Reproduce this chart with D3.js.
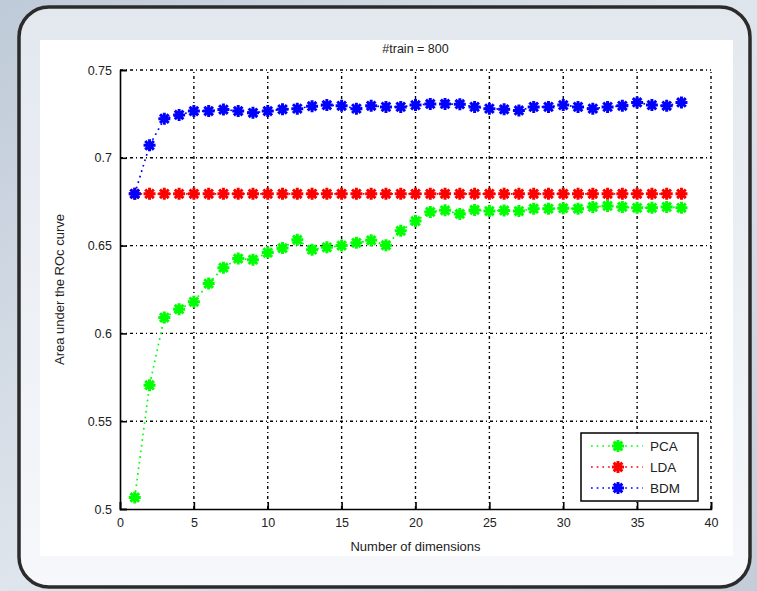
<!DOCTYPE html>
<html>
<head>
<meta charset="utf-8">
<script src="https://cdn.jsdelivr.net/npm/d3@7"></script>
<style>
  body { margin: 0; }
  text { font-family: "Liberation Sans", Arial, sans-serif; }
</style>
</head>
<body>
<div id="chart"></div>
<script>
const width = 757;
const height = 591;
const margin = { top: 70, right: 46, bottom: 82, left: 120 };

// data
const dims = d3.range(1, 39);
const pca = [0.5066, 0.5705, 0.609, 0.6138, 0.618, 0.6284, 0.6374, 0.6426, 0.642, 0.646,
  0.6486, 0.6533, 0.6477, 0.649, 0.650, 0.6516, 0.653, 0.6502, 0.6584, 0.664,
  0.6692, 0.6701, 0.668, 0.6703, 0.6697, 0.670, 0.6697, 0.671, 0.671, 0.6713,
  0.671, 0.672, 0.6726, 0.672, 0.6715, 0.6715, 0.672, 0.6715];
const lda = dims.map(() => 0.6795);
const bdm = [0.6795, 0.7071, 0.7223, 0.7244, 0.7266, 0.7266, 0.7275, 0.7266, 0.7256, 0.7266,
  0.7276, 0.728, 0.7294, 0.730, 0.7296, 0.728, 0.7296, 0.729, 0.729, 0.730,
  0.7307, 0.7307, 0.7305, 0.729, 0.728, 0.7276, 0.727, 0.729, 0.729, 0.730,
  0.729, 0.728, 0.729, 0.7296, 0.7315, 0.730, 0.7296, 0.7315];
const seriesNames = ["PCA", "LDA", "BDM"];
const seriesColors = ["#00ff00", "#ff0000", "#0000ff"];
const xTicks = [0, 5, 10, 15, 20, 25, 30, 35, 40];
const yTicks = [0.5, 0.55, 0.6, 0.65, 0.7, 0.75];

const seriesData = [pca, lda, bdm];

const svg = d3.select("#chart")
  .append("svg")
  .attr("width", width)
  .attr("height", height);

const defs = svg.append("defs");
const bg = defs.append("linearGradient").attr("id", "bg")
  .attr("x1", 0).attr("y1", 0).attr("x2", 1).attr("y2", 1);
bg.append("stop").attr("offset", 0).attr("stop-color", "#bfcad8");
bg.append("stop").attr("offset", 0.5).attr("stop-color", "#dfe5ec");
bg.append("stop").attr("offset", 1).attr("stop-color", "#c3ccd8");

const panel = defs.append("linearGradient").attr("id", "panel")
  .attr("x1", 0).attr("y1", 0).attr("x2", 0).attr("y2", 1);
panel.append("stop").attr("offset", 0).attr("stop-color", "#e3e8ef");
panel.append("stop").attr("offset", 1).attr("stop-color", "#f6f8fb");

// backgrounds
svg.append("rect").attr("width", width).attr("height", height).attr("fill", "url(#bg)");
svg.append("rect")
  .attr("x", 19).attr("y", 7).attr("width", 731).attr("height", 580)
  .attr("rx", 30).attr("ry", 30)
  .attr("fill", "url(#panel)")
  .attr("stroke", "#2b2b2b").attr("stroke-width", 3.5);
svg.append("rect")
  .attr("x", 40).attr("y", 40).attr("width", 693).attr("height", 516)
  .attr("fill", "#ffffff");

// scales
const xScale = d3.scaleLinear().domain([0, 40]).range([margin.left, width - margin.right]);
const yScale = d3.scaleLinear().domain([0.5, 0.75]).range([height - margin.bottom, margin.top]);

// grid
const grid = svg.append("g")
  .attr("stroke", "#000")
  .attr("stroke-width", 1.4)
  .attr("stroke-dasharray", "3,3,1,3");

grid.selectAll(".gx")
  .data(xTicks.slice(1))
  .join("line")
  .attr("x1", d => xScale(d)).attr("x2", d => xScale(d))
  .attr("y1", yScale(0.5)).attr("y2", yScale(0.75));

grid.selectAll(".gy")
  .data(yTicks.slice(1))
  .join("line")
  .attr("x1", xScale(0)).attr("x2", xScale(40))
  .attr("y1", d => yScale(d)).attr("y2", d => yScale(d));

// axes
const axes = svg.append("g");
axes.append("g")
  .attr("transform", `translate(0, ${yScale(0.5)})`)
  .call(d3.axisBottom(xScale).tickValues(xTicks).tickSize(-7).tickPadding(9).tickFormat(d3.format("d")))
  .call(g => g.select(".domain").attr("stroke-width", 1.6))
  .call(g => g.selectAll(".tick line").attr("stroke-width", 1.6))
  .selectAll("text")
  .attr("font-size", "12.5px")
  .attr("fill", "#222");

axes.append("g")
  .attr("transform", `translate(${xScale(0)}, 0)`)
  .call(d3.axisLeft(yScale).tickValues(yTicks).tickSize(-7).tickPadding(8).tickFormat(d => String(+d.toFixed(2))))
  .call(g => g.select(".domain").attr("stroke-width", 1.6))
  .call(g => g.selectAll(".tick line").attr("stroke-width", 1.6))
  .selectAll("text")
  .attr("font-size", "12.5px")
  .attr("fill", "#222");

// lines and markers
const line = d3.line()
  .x((d, i) => xScale(dims[i]))
  .y(d => yScale(d));

const star = r => {
  const a = r * 0.72;
  return `M${-r},0L${r},0M0,${-r}L0,${r}M${-a},${-a}L${a},${a}M${-a},${a}L${a},${-a}`;
};

const plot = svg.append("g");
seriesData.forEach((vals, k) => {
  plot.append("path")
    .datum(vals)
    .attr("d", line)
    .attr("fill", "none")
    .attr("stroke", seriesColors[k])
    .attr("stroke-width", 1.7)
    .attr("stroke-dasharray", "1.7,4");

  plot.append("g")
    .selectAll("path")
    .data(vals)
    .join("path")
    .attr("transform", (d, i) => `translate(${xScale(dims[i])}, ${yScale(d)})`)
    .attr("d", star(6))
    .attr("fill", "none")
    .attr("stroke", seriesColors[k])
    .attr("stroke-width", 3);
});

// titles
svg.append("text")
  .attr("x", xScale(20))
  .attr("y", 53)
  .attr("text-anchor", "middle")
  .attr("font-size", "12.5px")
  .attr("fill", "#222")
  .text("#train = 800");

svg.append("text")
  .attr("x", xScale(20))
  .attr("y", 551)
  .attr("text-anchor", "middle")
  .attr("font-size", "13px")
  .attr("fill", "#222")
  .text("Number of dimensions");

svg.append("text")
  .attr("transform", `translate(64, ${(yScale(0.5) + yScale(0.75)) / 2}) rotate(-90)`)
  .attr("text-anchor", "middle")
  .attr("font-size", "13px")
  .attr("fill", "#222")
  .text("Area under the ROc curve");

// legend
const legend = svg.append("g").attr("transform", "translate(581, 433)");
legend.append("rect")
  .attr("width", 117).attr("height", 68)
  .attr("fill", "#fff")
  .attr("stroke", "#000").attr("stroke-width", 1.5);

const items = legend.selectAll(".item")
  .data(seriesNames)
  .join("g")
  .attr("transform", (d, i) => `translate(0, ${13 + i * 21})`);

items.append("line")
  .attr("x1", 10).attr("x2", 62)
  .attr("stroke", (d, i) => seriesColors[i])
  .attr("stroke-width", 1.7)
  .attr("stroke-dasharray", "1.7,4");

items.append("path")
  .attr("transform", "translate(37, 0)")
  .attr("d", star(6))
  .attr("fill", "none")
  .attr("stroke", (d, i) => seriesColors[i])
  .attr("stroke-width", 3);

items.append("text")
  .attr("x", 69)
  .attr("dy", "0.36em")
  .attr("font-size", "13.5px")
  .attr("fill", "#222")
  .text(d => d);
</script>
</body>
</html>
